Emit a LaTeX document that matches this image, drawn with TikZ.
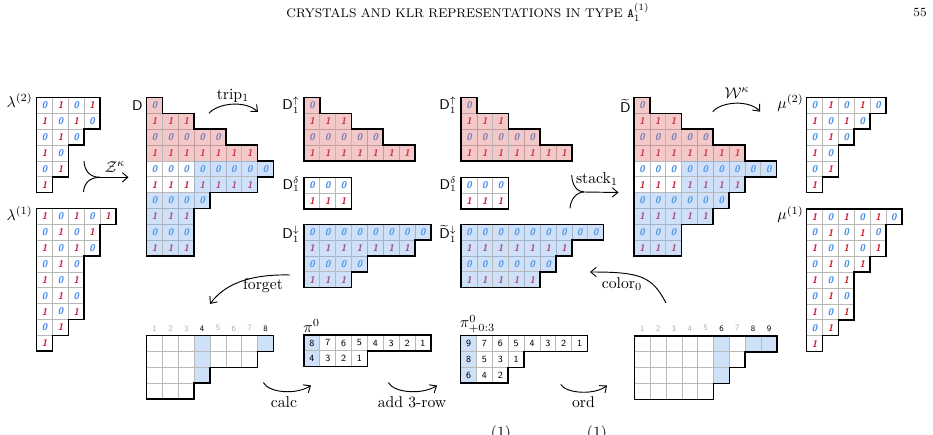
\documentclass[tikz,border=0pt]{standalone}
\usepackage{amsmath}
\usepackage{amssymb}
\usetikzlibrary{arrows.meta, calc, positioning}

\definecolor{zeroblue}{RGB}{70,140,228}
\definecolor{onered}{RGB}{205,30,50}
\definecolor{pinkfill}{RGB}{218,98,98}
\definecolor{bluefill}{RGB}{115,169,235}
\definecolor{bluecell}{RGB}{206,225,248}
\definecolor{gridgray}{RGB}{185,185,185}
\definecolor{idxgray}{RGB}{175,175,175}

\newcommand{\cw}{15.85}

% 0/1 tableau: x, y, alternate, name, rows length/white cells/fill/first digit
\newcommand{\bittab}[5]{%
  \begin{scope}[shift={(#1,#2)}]
    \foreach \nn/\ww/\ff/\dg [count=\ro from 0] in {#5} {
      \foreach \co in {1,...,\nn} {
        \pgfmathtruncatemacro{\vv}{mod(\dg+#3*(\co-1),2)}
        \ifnum\vv=0\relax \def\dc{zeroblue}\else\def\dc{onered}\fi
        \draw[gridline] ({(\co-1)*\cw},{\ro*\cw}) rectangle ++(\cw,\cw);
        \node[digit, text=\dc] (#4-\ro-\co) at ({(\co-0.5)*\cw},{(\ro+0.5)*\cw}) {\vv};
        \ifnum\co>\ww\relax
          \fill[\ff, fill opacity=.35] ({(\co-1)*\cw},{\ro*\cw}) rectangle ++(\cw,\cw);
        \fi
      }
    }
    \draw[outline] (0,0) \foreach \nn/\ww/\ff/\dg [count=\ro] in {#5} {
      -- ({\nn*\cw},{(\ro-1)*\cw}) -- ({\nn*\cw},{\ro*\cw})} -| (0,0) -- cycle;
  \end{scope}}

% empty grid: x, y, name, row lengths, blue cells row/col
\newcommand{\blankgrid}[5]{%
  \begin{scope}[shift={(#1,#2)}]
    \coordinate (#3) at (0,0);
    \foreach \ro/\co in {#5}
      \fill[bluecell] ({(\co-1)*\cw},{\ro*\cw}) rectangle ++(\cw,\cw);
    \foreach \nn [count=\ro from 0] in {#4}
      \foreach \co in {1,...,\nn}
        \draw[gridline] ({(\co-1)*\cw},{\ro*\cw}) rectangle ++(\cw,\cw);
    \draw[outline] (0,0) \foreach \nn [count=\ro] in {#4} {
      -- ({\nn*\cw},{(\ro-1)*\cw}) -- ({\nn*\cw},{\ro*\cw})} -| (0,0) -- cycle;
  \end{scope}}

% numbered table: x, y, name, row lengths, rows of entries
\newcommand{\numtab}[5]{%
  \begin{scope}[shift={(#1,#2)}]
    \foreach \rw [count=\ro from 0] in {#5} {
      \fill[bluecell] (0,{\ro*\cw}) rectangle ++(\cw,\cw);
      \foreach \vv [count=\co] in \rw {
        \draw[gridline] ({(\co-1)*\cw},{\ro*\cw}) rectangle ++(\cw,\cw);
        \node[numb] (#3-\ro-\co) at ({(\co-0.5)*\cw},{(\ro+0.5)*\cw}) {\vv};
      }
    }
    \draw[outline] (0,0) \foreach \nn [count=\ro] in {#4} {
      -- ({\nn*\cw},{(\ro-1)*\cw}) -- ({\nn*\cw},{\ro*\cw})} -| (0,0) -- cycle;
  \end{scope}}

\begin{document}
\begin{tikzpicture}[x=0.0224cm, y=-0.0224cm,
    >={Straight Barb[length=3.5pt,width=6pt]},
    gridline/.style={draw=gridgray, line width=0.45pt},
    outline/.style={draw=black, line width=1pt, line join=miter},
    digit/.style={font=\sffamily\bfseries\slshape\fontsize{6.2}{6.5}\selectfont, inner sep=0pt},
    numb/.style={font=\sffamily\fontsize{6}{6.5}\selectfont, inner sep=0pt},
    idx/.style={font=\sffamily\fontsize{5.3}{6}\selectfont, inner sep=0pt},
    dlbl/.style={inner sep=0pt, anchor=base east, font=\small},
    arr/.style={->, line width=0.6pt},
    curveline/.style={line width=0.6pt}]

\useasboundingbox (0,0) rectangle (933,435);

% running head
\node[font=\footnotesize] (head) at (468,12.5) {CRYSTALS AND KLR REPRESENTATIONS IN TYPE $\mathtt{A}_1^{(1)}$};
\node[font=\footnotesize] (pageno) at (920,12.5) {55};

% lambda
\bittab{36.7}{97.5}{1}{lamb}{4/4/pinkfill/0, 4/4/pinkfill/1, 3/3/pinkfill/0, 2/2/pinkfill/1, 2/2/pinkfill/0, 1/1/pinkfill/1}
\bittab{36.7}{208.5}{1}{lama}{5/5/pinkfill/1, 4/4/pinkfill/0, 4/4/pinkfill/1, 3/3/pinkfill/0, 3/3/pinkfill/1, 3/3/pinkfill/0, 3/3/pinkfill/1, 2/2/pinkfill/0, 1/1/pinkfill/1}
\node[dlbl, font=\normalsize] (lamb-l) at (33,107.5) {$\lambda^{(2)}$};
\node[dlbl, font=\normalsize] (lama-l) at (33,220.5) {$\lambda^{(1)}$};

% D
\bittab{146.7}{97.5}{0}{dd}{1/0/pinkfill/0, 3/0/pinkfill/1, 5/0/pinkfill/0, 7/0/pinkfill/1, 8/3/bluefill/0, 7/3/bluefill/1, 4/0/bluefill/0, 3/0/bluefill/1, 3/0/bluefill/0, 3/0/bluefill/1}
\node[dlbl] (dd-l) at (143,111) {$\mathsf{D}$};

% pieces
\bittab{304}{97.5}{0}{upa}{1/0/pinkfill/0, 3/0/pinkfill/1, 5/0/pinkfill/0, 7/0/pinkfill/1}
\bittab{304}{177.3}{0}{dla}{3/3/pinkfill/0, 3/3/pinkfill/1}
\bittab{304}{224.3}{0}{dna}{8/0/bluefill/0, 7/0/bluefill/1, 4/0/bluefill/0, 3/0/bluefill/1}
\node[dlbl] (upa-l) at (300,110) {$\mathsf{D}_1^{\uparrow}$};
\node[dlbl] (dla-l) at (300,189.3) {$\mathsf{D}_1^{\delta}$};
\node[dlbl] (dna-l) at (300,239) {$\mathsf{D}_1^{\downarrow}$};

\bittab{461}{97.5}{0}{upb}{1/0/pinkfill/0, 3/0/pinkfill/1, 5/0/pinkfill/0, 7/0/pinkfill/1}
\bittab{461}{177.3}{0}{dlb}{3/3/pinkfill/0, 3/3/pinkfill/1}
\bittab{461}{224.3}{0}{dnb}{9/0/bluefill/0, 7/0/bluefill/1, 6/0/bluefill/0, 5/0/bluefill/1}
\node[dlbl] (upb-l) at (457,110) {$\mathsf{D}_1^{\uparrow}$};
\node[dlbl] (dlb-l) at (457,189.3) {$\mathsf{D}_1^{\delta}$};
\node[dlbl] (dnb-l) at (457,239) {$\widetilde{\mathsf{D}}_1^{\downarrow}$};

% D tilde
\bittab{634}{97.5}{0}{dt}{1/0/pinkfill/0, 3/0/pinkfill/1, 5/0/pinkfill/0, 7/0/pinkfill/1, 9/3/bluefill/0, 7/3/bluefill/1, 6/0/bluefill/0, 5/0/bluefill/1, 3/0/bluefill/0, 3/0/bluefill/1}
\node[dlbl] (dt-l) at (631,113) {$\widetilde{\mathsf{D}}$};

% mu
\bittab{806.7}{97.5}{1}{mub}{5/5/pinkfill/0, 4/4/pinkfill/1, 3/3/pinkfill/0, 2/2/pinkfill/1, 2/2/pinkfill/0, 1/1/pinkfill/1}
\bittab{806.7}{208.8}{1}{mua}{6/6/pinkfill/1, 5/5/pinkfill/0, 5/5/pinkfill/1, 4/4/pinkfill/0, 3/3/pinkfill/1, 3/3/pinkfill/0, 3/3/pinkfill/1, 2/2/pinkfill/0, 1/1/pinkfill/1}
\node[dlbl, font=\normalsize] (mub-l) at (804,108.5) {$\mu^{(2)}$};
\node[dlbl, font=\normalsize] (mua-l) at (804,220) {$\mu^{(1)}$};

% bottom row
\blankgrid{146.7}{335.7}{ga}{8,7,4,3}{0/4,1/4,2/4,0/8}
\foreach \co/\cl in {1/idxgray,2/idxgray,3/idxgray,4/black,5/idxgray,6/idxgray,7/idxgray,8/black}
  \node[idx, text=\cl] (ga-i\co) at ({146.7+(\co-0.5)*\cw},328.3) {\co};

\numtab{304}{335}{pa}{8,4}{{8,7,6,5,4,3,2,1},{4,3,2,1}}
\node[inner sep=0pt, anchor=south west] (pa-l) at (303,333) {$\pi^{0}$};

\numtab{460.7}{335.7}{pb}{8,4,3}{{9,7,6,5,4,3,2,1},{8,5,3,1},{6,4,2}}
\node[inner sep=0pt, anchor=south west] (pb-l) at (459.5,333.5) {$\pi^{0}_{+0:3}$};

\blankgrid{634.3}{336}{gb}{9,7,6,5}{0/6,1/6,2/6,0/8,0/9}
\foreach \co/\cl in {1/idxgray,2/idxgray,3/idxgray,4/idxgray,5/idxgray,6/black,7/idxgray,8/black,9/black}
  \node[idx, text=\cl] (gb-i\co) at ({634.3+(\co-0.5)*\cw},328.3) {\co};

% arrows
\coordinate (zk-top) at (84,161);
\coordinate (zk-bot) at (83.5,192);
\coordinate (zk-mid) at (100,177.3);
\coordinate (zk-end) at (128.5,177.3);
\draw[curveline] (zk-top) .. controls (84.5,171) and (90,177.3) .. (zk-mid);
\draw[curveline] (zk-bot) .. controls (84,183) and (90,177.3) .. (zk-mid);
\draw[arr] (zk-mid) -- (zk-end);
\node (zk-l) at (115,167) {$\mathcal{Z}^{\kappa}$};

\coordinate (tr-a) at (209,113.3);
\coordinate (tr-b) at (258,112);
\draw[arr] (tr-a) .. controls (218,103) and (245,100) .. (tr-b);
\node (tr-l) at (233,96) {trip$_1$};

\coordinate (fg-a) at (290,275);
\coordinate (fg-b) at (210,304);
\draw[arr] (fg-a) .. controls (248,274) and (224,285) .. (fg-b);
\node (fg-l) at (263,285.5) {forget};

\coordinate (ca-a) at (263.3,382.5);
\coordinate (ca-b) at (311,385.5);
\draw[arr] (ca-a) .. controls (269,393) and (296,395) .. (ca-b);
\node (ca-l) at (284,402.5) {calc};

\coordinate (ad-a) at (388.3,382.5);
\coordinate (ad-b) at (437,385.5);
\draw[arr] (ad-a) .. controls (394,393) and (422,395) .. (ad-b);
\node (ad-l) at (412,402.5) {add 3-row};

\coordinate (od-a) at (560.7,384.5);
\coordinate (od-b) at (607,385.5);
\draw[arr] (od-a) .. controls (567,394) and (595,395) .. (od-b);
\node (od-l) at (583.5,402.5) {ord};

\coordinate (co-a) at (666,303);
\coordinate (co-b) at (590,272);
\draw[arr] (co-a) .. controls (652,276) and (640,272) .. (co-b);
\node (co-l) at (622,284) {color$_0$};

\coordinate (st-top) at (571.7,175);
\coordinate (st-bot) at (570,208.3);
\coordinate (st-mid) at (584,192);
\coordinate (st-end) at (618.5,192.5);
\draw[curveline] (st-top) .. controls (572,185) and (577,192) .. (st-mid);
\draw[curveline] (st-bot) .. controls (570.5,199) and (577,192) .. (st-mid);
\draw[arr] (st-mid) -- (st-end);
\node (st-l) at (597,179) {stack$_1$};

\coordinate (wk-a) at (712.7,111.7);
\coordinate (wk-b) at (760,111.7);
\draw[arr] (wk-a) .. controls (722,101) and (750,100) .. (wk-b);
\node (wk-l) at (737,93) {$\mathcal{W}^{\kappa}$};

% caption line, cut off by the page edge
\node[inner sep=0pt, anchor=base] (cap-a) at (501,437) {(1)};
\node[inner sep=0pt, anchor=base] (cap-b) at (597,437) {(1)};

\end{tikzpicture}
\end{document}
